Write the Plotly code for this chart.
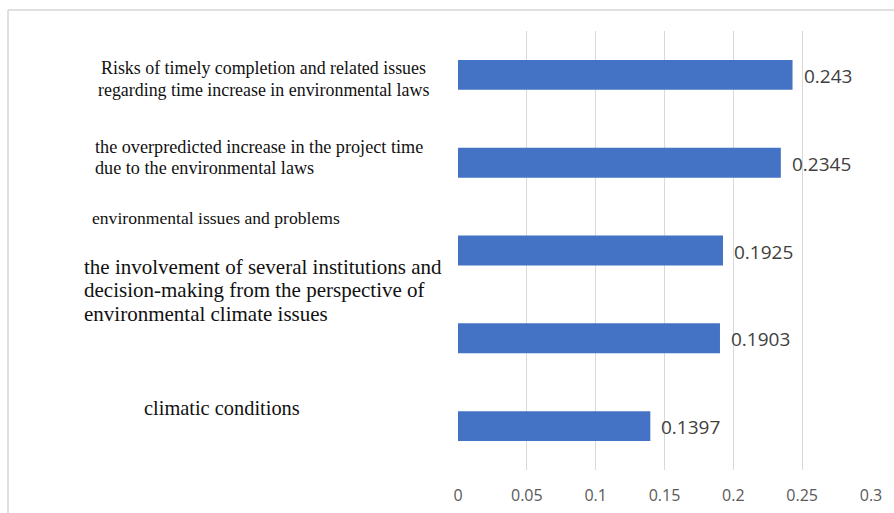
import plotly.graph_objects as go

# Factor weights (top to bottom)
categories = [
    "Risks of timely completion and related issues regarding time increase in environmental laws",
    "the overpredicted increase in the project time due to the environmental laws",
    "environmental issues and problems",
    "the involvement of several institutions and decision-making from the perspective of environmental climate issues",
    "climatic conditions",
]
weights = [0.243, 0.2345, 0.1925, 0.1903, 0.1397]
value_labels = ["0.243", "0.2345", "0.1925", "0.1903", "0.1397"]
x_ticks = [0, 0.05, 0.1, 0.15, 0.2, 0.25, 0.3]
x_tick_labels = ["0", "0.05", "0.1", "0.15", "0.2", "0.25", "0.3"]

# Wrapped category texts drawn beside the bars, one entry per line
category_lines = [
    ["Risks of timely completion and related issues",
     "regarding time increase in environmental laws"],
    ["the overpredicted increase in the project time",
     "due to the environmental laws"],
    ["environmental issues and problems"],
    ["the involvement of several institutions and",
     "decision-making from the perspective of",
     "environmental climate issues"],
    ["climatic conditions"],
]

W, H = 894, 513
L, R, T, B = 458, 23, 31, 43
PW, PH = W - L - R, H - T - B


def px_x(px):
    return (px - L) / PW


def px_y(py):
    return (H - B - py) / PH


# (anchor pixel x, first-line pixel y, line step, anchor, font size)
text_places = [
    (263, 68, 22, "center", 17.9),
    (93, 147, 21, "left", 18.2),
    (90, 218, 0, "left", 17.6),
    (82, 267, 23.3, "left", 21),
    (142, 408, 0, "left", 20.4),
]

fig = go.Figure(
    go.Bar(
        x=weights,
        y=categories,
        orientation="h",
        marker=dict(color="#4472C4", line=dict(width=0)),
        width=0.34,
    )
)

annotations = []
for lines, (px, py, step, anchor, size) in zip(category_lines, text_places):
    for i, line in enumerate(lines):
        annotations.append(
            dict(
                text=line,
                x=px_x(px),
                y=px_y(py + i * step),
                xref="paper",
                yref="paper",
                xanchor=anchor,
                yanchor="middle",
                align=anchor,
                showarrow=False,
                font=dict(family="Liberation Serif", size=size, color="#111111"),
            )
        )

for cat, val, lab in zip(categories, weights, value_labels):
    annotations.append(
        dict(
            text=lab,
            x=val,
            y=cat,
            xref="x",
            yref="y",
            xanchor="left",
            yanchor="middle",
            xshift=9,
            yshift=-1,
            showarrow=False,
            font=dict(family="Open Sans", size=19, color="#404040"),
        )
    )

border = dict(color="#d6d6d6", width=1.5)
shapes = [
    dict(type="line", xref="paper", yref="paper",
         x0=px_x(8), x1=px_x(W + 5), y0=px_y(10), y1=px_y(10), line=border),
    dict(type="line", xref="paper", yref="paper",
         x0=px_x(8), x1=px_x(8), y0=px_y(10), y1=px_y(H + 5), line=border),
]

fig.update_layout(
    width=W,
    height=H,
    margin=dict(l=L, r=R, t=T, b=B, pad=0),
    paper_bgcolor="white",
    plot_bgcolor="white",
    showlegend=False,
    annotations=annotations,
    shapes=shapes,
    xaxis=dict(
        range=[0, 0.3],
        tickvals=x_ticks,
        ticktext=x_tick_labels,
        showgrid=True,
        gridcolor="#d9d9d9",
        gridwidth=1,
        zeroline=False,
        showline=False,
        ticks="",
        ticklabelstandoff=14,
        automargin=False,
        tickfont=dict(family="Open Sans", size=16, color="#595959"),
        fixedrange=True,
    ),
    yaxis=dict(
        autorange="reversed",
        showticklabels=False,
        showgrid=False,
        zeroline=False,
        showline=False,
        ticks="",
    ),
)

fig.write_html("out.html")
